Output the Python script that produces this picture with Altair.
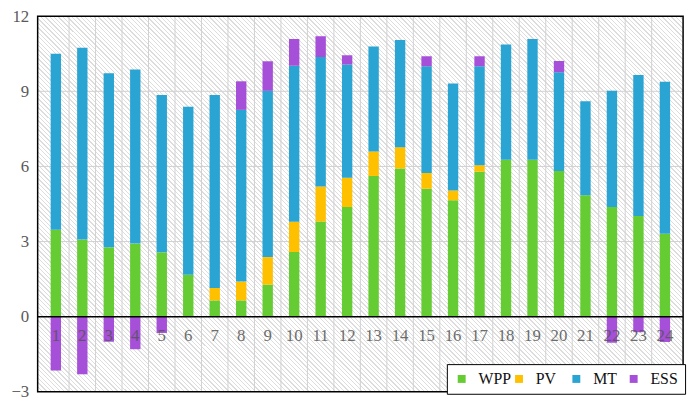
import altair as alt
import pandas as pd

hours = list(range(1, 25))
sources = ["WPP", "PV", "MT", "ESS"]
colors = ["#66CC33", "#FFC000", "#2AA5D3", "#A64FD8"]

wpp = [3.47, 3.08, 2.77, 2.92, 2.57, 1.67, 0.65, 0.65, 1.28, 2.58, 3.80, 4.38,
       5.62, 5.92, 5.11, 4.65, 5.79, 6.27, 6.27, 5.82, 4.85, 4.38, 4.02, 3.31]
pv = [0, 0, 0, 0, 0, 0, 0.50, 0.75, 1.10, 1.21, 1.40, 1.17,
      0.98, 0.85, 0.63, 0.39, 0.26, 0, 0, 0, 0, 0, 0, 0]
mt = [7.03, 7.66, 6.95, 6.95, 6.28, 6.71, 7.70, 6.86, 6.64, 6.23, 5.17, 4.52,
      4.19, 4.28, 4.26, 4.27, 3.95, 4.60, 4.82, 3.94, 3.75, 4.64, 5.63, 6.07]
ess = [-2.15, -2.30, -1.00, -1.30, -0.65, 0, 0, 1.14, 1.18, 1.07, 0.83, 0.37,
       0, 0, 0.40, 0, 0.40, 0, 0, 0.45, 0, -1.04, -0.62, -1.01]

y_ticks = [-3, 0, 3, 6, 9, 12]
y_grid = [3, 6, 9]

W, H = 653, 380

rows = []
for i, h in enumerate(hours):
    for k, (name, series) in enumerate(zip(sources, [wpp, pv, mt, ess])):
        v = series[i]
        if v != 0:
            rows.append({"hour": h, "source": name, "value": v, "idx": k})
df = pd.DataFrame(rows)
df_hours = pd.DataFrame({"hour": hours, "label": [str(h) for h in hours]})
df_vgrid = pd.DataFrame({"hour": [h + 0.5 for h in hours[:-1]]})
df_hgrid = pd.DataFrame({"value": y_grid})
df_zero = pd.DataFrame({"value": [0]})
df_one = pd.DataFrame({"a": [0]})

serif = "Times New Roman, Liberation Serif, serif"

# diagonal hatch background built as a striped linear gradient
n_stripes = 230
line_frac = 0.3
stops = []
for i in range(n_stripes):
    a = i / n_stripes
    b = (i + line_frac) / n_stripes
    c = (i + 1) / n_stripes
    stops += [
        {"offset": a, "color": "#dddddd"},
        {"offset": b, "color": "#dddddd"},
        {"offset": b, "color": "#ffffff"},
        {"offset": c, "color": "#ffffff"},
    ]
hatch = alt.LinearGradient(gradient="linear", x1=0, y1=1, x2=1.182, y2=0.312, stops=stops)

xscale = alt.Scale(domain=[0.5, 24.5], nice=False, zero=False)
yscale = alt.Scale(domain=[-3, 12], nice=False, zero=False)
yaxis = alt.Axis(values=y_ticks, grid=False, ticks=False, domain=False,
                 labelFont=serif, labelFontSize=17, labelColor="#595959",
                 labelPadding=9, title=None)


def X(field="hour:Q"):
    return alt.X(field, scale=xscale, axis=None, title=None)


def Y(field="value:Q", **kw):
    return alt.Y(field, scale=yscale, axis=yaxis, title=None, **kw)


background = alt.Chart(df_one).mark_rect(fill=hatch, strokeWidth=0).encode(
    x=alt.value(0), x2=alt.value(W), y=alt.value(0), y2=alt.value(H)
)

vgrid = alt.Chart(df_vgrid).mark_rule(color="#d0d0d0", strokeWidth=1).encode(x=X())
hgrid = alt.Chart(df_hgrid).mark_rule(color="#d0d0d0", strokeWidth=1).encode(y=Y())

bars = alt.Chart(df).mark_bar(size=10.5).encode(
    x=X(),
    y=Y(stack="zero"),
    color=alt.Color(
        "source:N",
        scale=alt.Scale(domain=sources, range=colors),
        sort=sources,
        legend=alt.Legend(
            title=None, orient="none", legendX=414, legendY=352,
            direction="horizontal", columns=4, gridAlign="all",
            strokeColor="black", fillColor="white", padding=7,
            symbolType="square", symbolSize=64, symbolStrokeWidth=0,
            labelFont=serif, labelFontSize=16, labelColor="#111111",
            labelOffset=9, columnPadding=0,
        ),
    ),
    order=alt.Order("idx:Q"),
)

zero_line = alt.Chart(df_zero).mark_rule(color="black", strokeWidth=1.5).encode(y=Y())

labels = alt.Chart(df_hours).mark_text(
    font=serif, fontSize=17, color="#555555", opacity=0.85, baseline="middle"
).encode(
    x=X(),
    y=alt.datum(-0.78, scale=yscale, axis=yaxis),
    text="label:N",
)

frame = alt.Chart(df_one).mark_rect(fillOpacity=0, stroke="black", strokeWidth=1.5).encode(
    x=alt.value(0), x2=alt.value(W), y=alt.value(0), y2=alt.value(H)
)

chart = alt.layer(background, vgrid, hgrid, bars, zero_line, labels, frame).properties(
    width=W, height=H,
    padding={"left": 30, "top": 6, "right": 8, "bottom": 6},
    autosize="none",
    background="white",
).configure_view(strokeWidth=0)

chart.save("out.html", embed_options={"renderer": "svg", "actions": False})
